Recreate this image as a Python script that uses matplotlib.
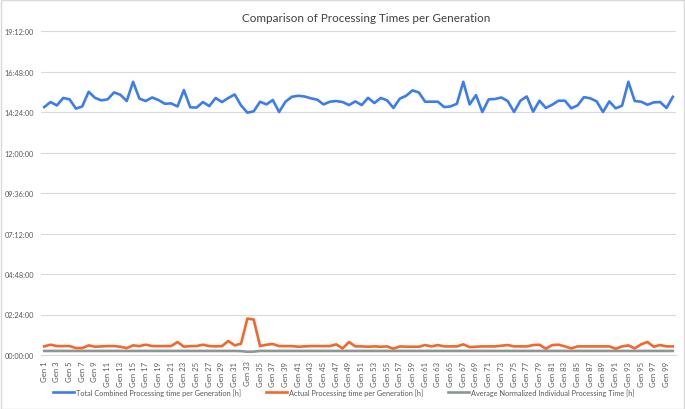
import matplotlib
matplotlib.use("Agg")
import matplotlib.pyplot as plt
from matplotlib.ticker import FuncFormatter, MultipleLocator
from matplotlib.patches import Rectangle

generations = [f"Gen {i}" for i in range(1, 101)]

total_combined = [
    14.69, 14.99, 14.79, 15.23, 15.15, 14.60, 14.73, 15.60, 15.24, 15.09,
    15.15, 15.56, 15.42, 15.05, 16.19, 15.19, 15.05, 15.26, 15.11, 14.89,
    14.91, 14.73, 15.70, 14.68, 14.66, 14.99, 14.75, 15.23, 14.99, 15.23,
    15.44, 14.79, 14.36, 14.44, 15.01, 14.85, 15.11, 14.40, 15.01, 15.30,
    15.36, 15.32, 15.21, 15.13, 14.85, 15.01, 15.05, 14.99, 14.81, 15.03,
    14.81, 15.24, 14.93, 15.23, 15.09, 14.64, 15.19, 15.36, 15.68, 15.56,
    15.01, 15.01, 15.01, 14.69, 14.73, 14.89, 16.19, 14.85, 15.40, 14.40,
    15.15, 15.17, 15.26, 15.05, 14.40, 15.07, 15.32, 14.42, 15.07, 14.64,
    14.83, 15.07, 15.07, 14.62, 14.79, 15.28, 15.21, 15.03, 14.40, 15.03,
    14.62, 14.77, 16.19, 15.05, 15.01, 14.83, 14.97, 14.99, 14.64, 15.30,
]

actual = [
    0.51, 0.61, 0.53, 0.53, 0.53, 0.41, 0.41, 0.57, 0.49, 0.51,
    0.53, 0.53, 0.49, 0.41, 0.57, 0.53, 0.61, 0.53, 0.53, 0.53,
    0.53, 0.77, 0.49, 0.53, 0.53, 0.61, 0.53, 0.51, 0.53, 0.83,
    0.57, 0.67, 2.16, 2.10, 0.53, 0.61, 0.65, 0.53, 0.53, 0.53,
    0.49, 0.51, 0.53, 0.53, 0.53, 0.53, 0.63, 0.39, 0.77, 0.51,
    0.51, 0.49, 0.51, 0.49, 0.51, 0.37, 0.51, 0.49, 0.49, 0.49,
    0.59, 0.51, 0.59, 0.51, 0.51, 0.51, 0.63, 0.47, 0.49, 0.51,
    0.51, 0.51, 0.55, 0.59, 0.51, 0.51, 0.51, 0.59, 0.61, 0.37,
    0.59, 0.61, 0.51, 0.39, 0.51, 0.51, 0.51, 0.51, 0.51, 0.51,
    0.37, 0.51, 0.57, 0.39, 0.63, 0.77, 0.49, 0.59, 0.51, 0.51,
]

avg_normalized = [
    0.24, 0.24, 0.24, 0.24, 0.24, 0.24, 0.24, 0.24, 0.24, 0.24,
    0.24, 0.24, 0.24, 0.24, 0.24, 0.24, 0.24, 0.24, 0.24, 0.24,
    0.24, 0.24, 0.24, 0.24, 0.24, 0.24, 0.24, 0.24, 0.24, 0.24,
    0.24, 0.23, 0.19, 0.20, 0.24, 0.24, 0.24, 0.24, 0.24, 0.24,
    0.24, 0.24, 0.24, 0.24, 0.24, 0.24, 0.24, 0.24, 0.24, 0.24,
    0.24, 0.24, 0.24, 0.24, 0.24, 0.24, 0.24, 0.24, 0.24, 0.24,
    0.24, 0.24, 0.24, 0.24, 0.24, 0.24, 0.24, 0.24, 0.24, 0.24,
    0.24, 0.24, 0.24, 0.24, 0.24, 0.24, 0.24, 0.24, 0.24, 0.24,
    0.24, 0.24, 0.24, 0.24, 0.24, 0.24, 0.24, 0.24, 0.24, 0.24,
    0.24, 0.24, 0.24, 0.24, 0.24, 0.24, 0.24, 0.24, 0.24, 0.24,
]

series_labels = [
    "Total Combined Processing time per Generation [h]",
    "Actual Processing time per Generation [h]",
    "Average Normalized Individual Processing Time [h]",
]
colors = ["#3C7CEE", "#F2682C", "#8C9696"]

plt.rcParams['font.family'] = ['Lato', 'DejaVu Sans']

W, H = 685, 410
fig = plt.figure(figsize=(W / 100, H / 100), dpi=100)
fig.patch.set_facecolor("white")
fig.add_artist(Rectangle((0.5 / W, 0.5 / H), 1 - 1.5 / W, 1 - 1.5 / H,
                         transform=fig.transFigure, fill=False,
                         edgecolor="#D9D9D9", linewidth=1.0))

ax = fig.add_axes([41 / W, 1 - 356 / H, (676 - 41) / W, (356 - 32) / H])
x = list(range(len(generations)))
for vals, lab, c in zip([total_combined, actual, avg_normalized], series_labels, colors):
    ax.plot(x, vals, color=c, linewidth=1.9, label=lab, solid_joinstyle="round")

ax.set_xlim(-0.5, len(generations) - 0.5)
ax.set_ylim(0, 19.2)
ax.yaxis.set_major_locator(MultipleLocator(2.4))


def fmt(v, pos):
    total_min = int(round(v * 60))
    h, m = divmod(total_min, 60)
    return f"{h:02d}:{m:02d}:00"


ax.yaxis.set_major_formatter(FuncFormatter(fmt))
ax.grid(axis="y", color="#D9D9D9", linewidth=0.8)
ax.set_axisbelow(True)
for s in ["top", "right", "left"]:
    ax.spines[s].set_visible(False)
ax.spines["bottom"].set_color("#D9D9D9")
ax.spines["bottom"].set_linewidth(0.8)

ax.set_xticks(x[::2])
ax.set_xticklabels(generations[::2], rotation=90, fontsize=5.6, color="#595959")
ax.tick_params(axis="x", length=0, pad=4)
ax.tick_params(axis="y", length=0, labelsize=5.3, labelcolor="#595959", pad=5)

fig.text(366 / W, 1 - 18 / H, "Comparison of Processing Times per Generation",
         ha="center", va="center", fontsize=8.4, color="#404040")

fig.legend(loc="center", bbox_to_anchor=(344 / W, 1 - 393 / H), ncol=3, frameon=False,
           fontsize=5.3, labelcolor="#595959", handlelength=2.8, columnspacing=3.4,
           handletextpad=0.3)

fig.savefig("out.png", dpi=100, facecolor="white")
